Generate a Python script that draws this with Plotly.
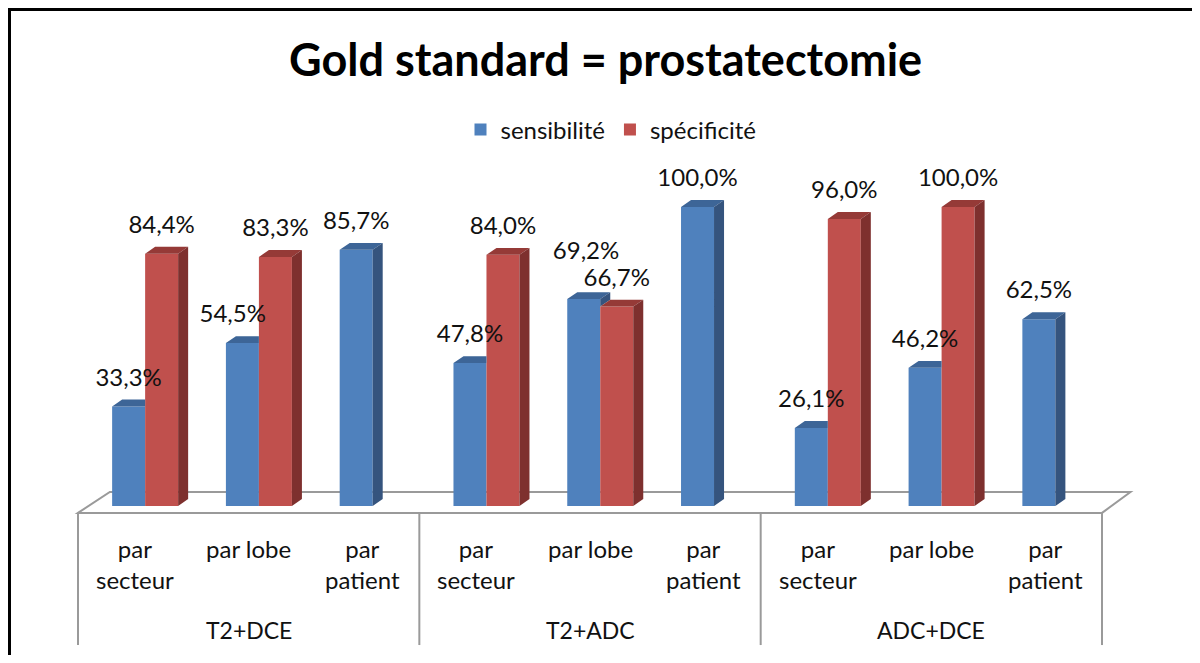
import plotly.graph_objects as go

# ---- data ----
groups = ["T2+DCE", "T2+ADC", "ADC+DCE"]
subcats = ["par<br>secteur", "par lobe", "par<br>patient"] * 3
sensibilite = [33.3, 54.5, 85.7, 47.8, 69.2, 100.0, 26.1, 46.2, 62.5]
specificite = [84.4, 83.3, None, 84.0, 66.7, None, 96.0, 100.0, None]
series_names = ["sensibilité", "spécificité"]

# ---- style ----
FONT = "Lato"
BLUE, BLUE_TOP, BLUE_SIDE = "#4F81BD", "#3D6597", "#35547E"
RED, RED_TOP, RED_SIDE = "#C0504D", "#953A37", "#7E302E"
W = 0.29           # bar width (category units)
OFF_B, OFF_R = 0.30, 0.59
DX, DY = 0.088, 2.3  # 3D depth
# label nudges (index -> (dx, dy)) for the sensibilité labels
NUDGE_B = {1: (-0.085, 0.0), 4: (0.02, 6.3)}

PAGE_OFF = 8  # body margin of the page, in px
PX_X = 113.78
PX_Y = 2.99
X0_PX, Y0_PX = 78 - PAGE_OFF, 506 - PAGE_OFF
WPX, HPX = 1200 - 2 * PAGE_OFF, 663 - 2 * PAGE_OFF

n = len(sensibilite)
xs = list(range(n))

fig = go.Figure()
fig.add_trace(go.Bar(x=xs, y=sensibilite, offset=OFF_B, width=W, name=series_names[0],
                     marker=dict(color=BLUE, line=dict(width=0))))
fig.add_trace(go.Bar(x=xs, y=specificite, offset=OFF_R, width=W, name=series_names[1],
                     marker=dict(color=RED, line=dict(width=0))))


def poly_trace(px, py, color):
    return go.Scatter(x=px, y=py, mode="lines", fill="toself", fillcolor=color,
                      line=dict(width=0, color=color), showlegend=False, hoverinfo="skip")


bt_x, bt_y, bs_x, bs_y = [], [], [], []
rt_x, rt_y, rs_x, rs_y = [], [], [], []
for i in xs:
    v = sensibilite[i]
    r = specificite[i]
    x0, x1 = i + OFF_B, i + OFF_B + W
    if r is not None and r >= v:
        bt_x += [x0, x1, x1, x0 + DX, x0, None]
        bt_y += [v, v, v + DY, v + DY, v, None]
    else:
        base = 0 if r is None else r
        bt_x += [x0, x1, x1 + DX, x0 + DX, x0, None]
        bt_y += [v, v, v + DY, v + DY, v, None]
        bs_x += [x1, x1, x1 + DX, x1 + DX, x1, None]
        bs_y += [base, v, v + DY, base + DY, base, None]
    if r is not None:
        a0, a1 = i + OFF_R, i + OFF_R + W
        rt_x += [a0, a1, a1 + DX, a0 + DX, a0, None]
        rt_y += [r, r, r + DY, r + DY, r, None]
        rs_x += [a1, a1, a1 + DX, a1 + DX, a1, None]
        rs_y += [0, r, r + DY, DY, 0, None]

fig.add_trace(poly_trace(bt_x, bt_y, BLUE_TOP))
fig.add_trace(poly_trace(bs_x, bs_y, BLUE_SIDE))
fig.add_trace(poly_trace(rt_x, rt_y, RED_TOP))
fig.add_trace(poly_trace(rs_x, rs_y, RED_SIDE))


def fmt(v):
    return f"{v:.1f}".replace(".", ",") + "%"


LAB = 9.0
bx = [i + OFF_B + W / 2 + NUDGE_B.get(i, (0, 0))[0] for i in xs]
by = [v + LAB + NUDGE_B.get(i, (0, 0))[1] for i, v in enumerate(sensibilite)]
fig.add_trace(go.Scatter(x=bx, y=by, mode="text",
                         text=[fmt(v) for v in sensibilite],
                         textfont=dict(family=FONT, size=24, color="#111"),
                         showlegend=False, hoverinfo="skip"))
rx = [i + OFF_R + W / 2 for i, r in zip(xs, specificite) if r is not None]
ry = [r + LAB for r in specificite if r is not None]
rtxt = [fmt(r) for r in specificite if r is not None]
fig.add_trace(go.Scatter(x=rx, y=ry, mode="text", text=rtxt,
                         textfont=dict(family=FONT, size=24, color="#111"),
                         showlegend=False, hoverinfo="skip"))

# floor & separators
GRAY = "#9A9A9A"
FY, BY = -2.3, 4.7
shapes = [
    dict(type="path", path=f"M 0 {FY} L 0.28 {BY} L 9.25 {BY} L 9 {FY} Z",
         line=dict(color=GRAY, width=2), layer="below"),
]
for k in range(len(groups) + 1):
    shapes.append(dict(type="line", x0=3 * k, x1=3 * k, y0=FY, y1=-46.5,
                       line=dict(color=GRAY, width=2), layer="below"))
# image border (top & left)
shapes.append(dict(type="line", xref="paper", yref="paper", x0=0, x1=1.01,
                   y0=1 - 1.5 / HPX, y1=1 - 1.5 / HPX, line=dict(color="black", width=3)))
shapes.append(dict(type="line", xref="paper", yref="paper", x0=1.5 / WPX, x1=1.5 / WPX,
                   y0=-0.02, y1=1, line=dict(color="black", width=3)))

annotations = []
for i, s in enumerate(subcats):
    annotations.append(dict(x=i + 0.5, y=-8.8, text=s, showarrow=False, yanchor="top",
                            xanchor="center", font=dict(family=FONT, size=24, color="#111")))
for g, name in enumerate(groups):
    annotations.append(dict(x=3 * g + 1.5, y=-41.5, text=name, showarrow=False,
                            yanchor="middle", xanchor="center",
                            font=dict(family=FONT, size=23, color="#111")))
annotations.append(dict(xref="paper", yref="paper", x=(605 - PAGE_OFF) / WPX,
                        y=1 - (59 - PAGE_OFF) / HPX,
                        text="<b>Gold standard = prostatectomie</b>", showarrow=False,
                        xanchor="center", yanchor="middle",
                        font=dict(family=FONT, size=45, color="black")))

xmin = -X0_PX / PX_X
ymax = Y0_PX / PX_Y
fig.update_layout(
    width=WPX, height=HPX,
    margin=dict(l=0, r=0, t=0, b=0),
    paper_bgcolor="white", plot_bgcolor="white",
    barmode="overlay",
    xaxis=dict(range=[xmin, xmin + WPX / PX_X], visible=False, fixedrange=True),
    yaxis=dict(range=[ymax - HPX / PX_Y, ymax], visible=False, fixedrange=True),
    legend=dict(orientation="h", x=(611 - PAGE_OFF) / WPX, xanchor="center",
                y=1 - (130 - PAGE_OFF) / HPX, yanchor="middle",
                font=dict(family=FONT, size=24, color="#111"), bgcolor="rgba(0,0,0,0)"),
    shapes=shapes,
    annotations=annotations,
    showlegend=True,
)

fig.write_html("out.html")
